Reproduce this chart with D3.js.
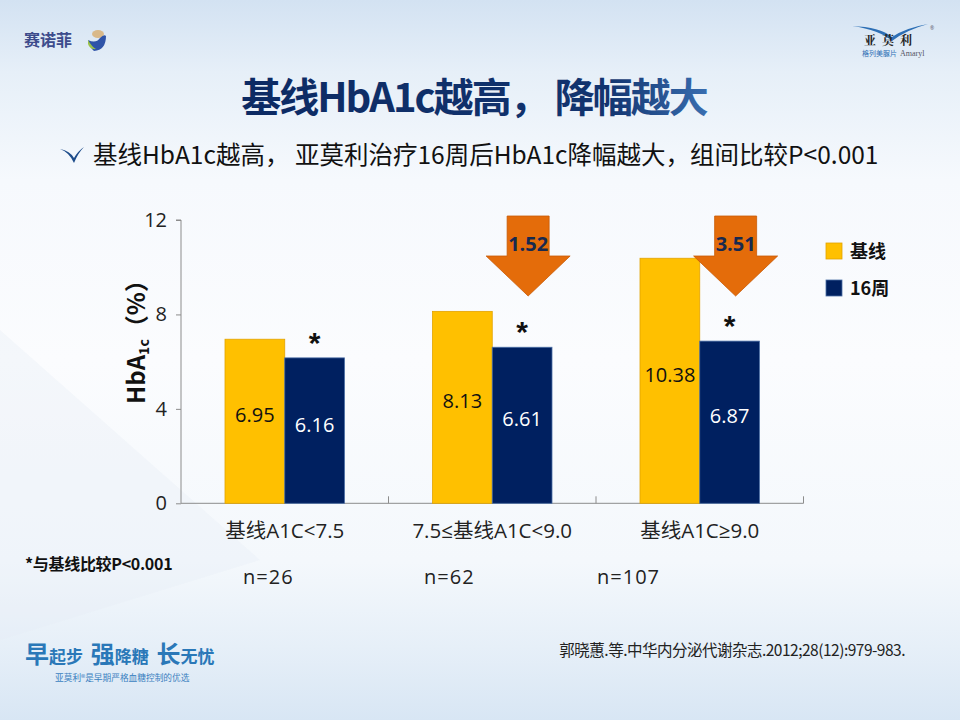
<!DOCTYPE html>
<html><head><meta charset="utf-8">
<script src="https://cdn.jsdelivr.net/npm/d3@7"></script>
<style>body{margin:0;padding:0;overflow:hidden;background:#fff}svg{display:block}</style>
</head><body>
<div id="chart"></div>
<script>
// ---- data ----
const categories = ["基线A1C<7.5", "7.5≤基线A1C<9.0", "基线A1C≥9.0"];
const seriesNames = ["基线", "16周"];
const baselineValues = [6.95, 8.13, 10.38];
const week16Values = [6.16, 6.61, 6.87];
const dropLabels = [null, "1.52", "3.51"];
const sampleSizes = ["n=26", "n=62", "n=107"];
const yTicks = [0, 4, 8, 12];
const seriesColors = ["#FFC000", "#002060"];
const seriesStroke = ["#E2A300", "#4C6FA6"];

const W = 960, H = 720;
const svg = d3.select("#chart").append("svg").attr("width", W).attr("height", H);
const defs = svg.append("defs");

// background
const bg = defs.append("linearGradient").attr("id", "bg").attr("x1", 0).attr("y1", 0).attr("x2", 0).attr("y2", 1);
[["0%", "#d3e2f2"], ["10%", "#e6eff8"], ["25%", "#f6f9fd"], ["50%", "#fbfcfe"], ["78%", "#f4f8fc"], ["90%", "#e6eff8"], ["100%", "#d8e6f4"]]
  .forEach(([o, c]) => bg.append("stop").attr("offset", o).attr("stop-color", c));
svg.append("rect").attr("width", W).attr("height", H).attr("fill", "url(#bg)");
svg.append("path").attr("d", "M0,330 L260,560 L0,640 Z").attr("fill", "#e3ecf6").attr("opacity", 0.3);

// title gradient
const tg = defs.append("linearGradient").attr("id", "tg").attr("gradientUnits", "userSpaceOnUse")
  .attr("x1", 237).attr("y1", 0).attr("x2", 712).attr("y2", 0);
[["0%", "#0c2a63"], ["78%", "#12346f"], ["100%", "#3a70b3"]].forEach(([o, c]) => tg.append("stop").attr("offset", o).attr("stop-color", c));

const CJK = "'Noto Sans CJK SC', 'Noto Sans', sans-serif";
const NUM = "'Open Sans', 'Noto Sans', sans-serif";
const MIX = "'Open Sans', 'Noto Sans CJK SC', sans-serif";

// logos
const lg = svg.append("g");
lg.append("text").attr("x", 24).attr("y", 46).attr("font-family", CJK).attr("font-weight", 700)
  .attr("font-size", 16).attr("fill", "#3d4c8c").text("赛诺菲");
lg.append("ellipse").attr("cx", 98).attr("cy", 34).attr("rx", 6).attr("ry", 4).attr("fill", "#d9b98a");
lg.append("path").attr("d", "M88,40 Q96,44 100,38 Q104,34 106,36 Q106,50 94,51 Q90,48 88,40 Z").attr("fill", "#2f54a8");
lg.append("path").attr("d", "M88,40 Q92,47 96,49 Q90,50 88,44 Z").attr("fill", "#9bc24a");

lg.append("path").attr("d", "M852,26 Q880,27 892,37 Q905,28 928,24 Q906,30 892,41 Q880,30 852,26 Z").attr("fill", "#2d6fb5");
lg.append("text").attr("x", 864).attr("y", 45).attr("font-family", "'Noto Serif CJK SC', 'Noto Sans CJK SC', serif")
  .attr("font-weight", 700).attr("font-size", 12).attr("letter-spacing", 6).attr("fill", "#222").text("亚莫利");
lg.append("text").attr("x", 862).attr("y", 56).attr("font-family", CJK).attr("font-size", 7).attr("fill", "#2d6fb5").text("格列美脲片");
lg.append("text").attr("x", 900).attr("y", 56).attr("font-family", "'Liberation Serif', serif").attr("font-size", 8).attr("fill", "#556").text("Amaryl");
lg.append("text").attr("x", 930).attr("y", 30).attr("font-family", NUM).attr("font-size", 5).attr("fill", "#556").text("®");

// title
svg.append("text").attr("x", 474).attr("y", 112).attr("text-anchor", "middle")
  .attr("font-family", CJK).attr("font-weight", 700).attr("font-size", 40).attr("letter-spacing", -2)
  .attr("fill", "url(#tg)").text("基线HbA1c越高， 降幅越大");

// subtitle bullet + text
svg.append("path").attr("d", "M60,149 Q70,151 74,158 Q78,151 84,147 Q78,153 74,163 Q69,152 60,149 Z").attr("fill", "#1d4c8a");
svg.append("text").attr("x", 93).attr("y", 164).attr("font-family", CJK).attr("font-size", 24.5).attr("fill", "#111")
  .text("基线HbA1c越高， 亚莫利治疗16周后HbA1c降幅越大，组间比较P<0.001");

// scales
const x0 = d3.scaleBand().domain(categories).range([181, 803.5]).padding(0);
const x1 = d3.scaleBand().domain(seriesNames).range([44, 163.5]).padding(0);
const y = d3.scaleLinear().domain([0, 12]).range([503.3, 220]);

// y axis
const yAxis = svg.append("g").attr("transform", "translate(181,0)")
  .call(d3.axisLeft(y).tickValues(yTicks).tickSize(5).tickPadding(9).tickFormat(d3.format("d")));
yAxis.selectAll("path,line").attr("stroke", "#8c8c8c");
yAxis.select(".domain").attr("d", `M-5,${y(12)}H0V${y(0)}`);
yAxis.selectAll("text").attr("font-family", NUM).attr("font-size", 20).attr("fill", "#222");

// x axis
const xg = svg.append("g");
xg.append("line").attr("x1", x0.range()[0]).attr("x2", x0.range()[1]).attr("y1", y(0)).attr("y2", y(0)).attr("stroke", "#8c8c8c");
xg.selectAll("line.tk").data(categories).join("line").attr("class", "tk")
  .attr("x1", d => x0(d) + x0.bandwidth()).attr("x2", d => x0(d) + x0.bandwidth())
  .attr("y1", y(0)).attr("y2", y(0) - 7).attr("stroke", "#8c8c8c");
xg.selectAll("text.cat").data(categories).join("text").attr("class", "cat")
  .attr("x", d => x0(d) + x0.bandwidth() / 2).attr("y", 538).attr("text-anchor", "middle")
  .attr("font-family", MIX).attr("font-size", 20.5).attr("fill", "#222").text(d => d);

// bars
const rows = categories.map((c, i) => ({ cat: c, vals: [baselineValues[i], week16Values[i]], drop: dropLabels[i] }));
const groups = svg.selectAll("g.grp").data(rows).join("g").attr("class", "grp")
  .attr("transform", d => `translate(${x0(d.cat)},0)`);
groups.selectAll("rect").data(d => d.vals.map((v, j) => ({ s: seriesNames[j], v, j }))).join("rect")
  .attr("x", d => x1(d.s)).attr("width", x1.bandwidth())
  .attr("y", d => y(d.v)).attr("height", d => y(0) - y(d.v))
  .attr("fill", d => seriesColors[d.j]).attr("stroke", d => seriesStroke[d.j]).attr("stroke-width", 0.8);
groups.selectAll("text.val").data(d => d.vals.map((v, j) => ({ s: seriesNames[j], v, j }))).join("text").attr("class", "val")
  .attr("x", d => x1(d.s) + x1.bandwidth() / 2).attr("y", d => (y(d.v) + y(0)) / 2 + 1)
  .attr("text-anchor", "middle").attr("font-family", NUM).attr("font-size", 20)
  .attr("fill", d => d.j === 0 ? "#111" : "#fff").text(d => d.v.toFixed(2));
// asterisks
groups.append("text").attr("x", d => x1(seriesNames[1]) + x1.bandwidth() / 2)
  .attr("y", d => y(d.vals[1]) - 5).attr("text-anchor", "middle")
  .attr("font-family", "'Liberation Sans', Arial, sans-serif").attr("font-weight", 700).attr("font-size", 30)
  .attr("fill", "#111").text("*");

// drop arrows
const arrowTop = 216, headY = 256, tipY = 296, shaftHW = 21, headHW = 42;
const arr = groups.filter(d => d.drop).append("g")
  .attr("transform", d => `translate(${x1(seriesNames[1]) + x1.bandwidth() / 2 + 6},0)`);
arr.append("path")
  .attr("d", `M${-shaftHW},${arrowTop}H${shaftHW}V${headY}H${headHW}L0,${tipY}L${-headHW},${headY}H${-shaftHW}Z`)
  .attr("fill", "#E46C0A").attr("stroke", "#c85a06").attr("stroke-width", 0.8);
arr.append("text").attr("x", 0).attr("y", 251).attr("text-anchor", "middle")
  .attr("font-family", NUM).attr("font-weight", 700).attr("font-size", 20).attr("fill", "#17294f").text(d => d.drop);

// legend
const leg = svg.append("g").attr("transform", "translate(826,243)");
seriesNames.forEach((s, i) => {
  leg.append("rect").attr("x", 0).attr("y", i * 37).attr("width", 16).attr("height", 16)
    .attr("fill", seriesColors[i]).attr("stroke", seriesStroke[i]).attr("stroke-width", 0.8);
  leg.append("text").attr("x", 24).attr("y", i * 37 + 15).attr("font-family", CJK).attr("font-weight", 700)
    .attr("font-size", 18).attr("fill", "#111").text(s);
});

// y-axis title
const yt = svg.append("text").attr("transform", "translate(145,336) rotate(-90)").attr("text-anchor", "middle")
  .attr("font-family", CJK).attr("font-weight", 700).attr("font-size", 24).attr("fill", "#111");
yt.append("tspan").text("HbA");
yt.append("tspan").attr("font-size", 14).attr("dy", 4).text("1c");
yt.append("tspan").attr("dy", -4).text("（%）");

// footnote + n
svg.append("text").attr("x", 25).attr("y", 570).attr("font-family", CJK).attr("font-weight", 700)
  .attr("font-size", 16).attr("letter-spacing", -0.3).attr("fill", "#111").text("*与基线比较P<0.001");
const nX = [243, 424, 597];
svg.selectAll("text.n").data(sampleSizes).join("text").attr("class", "n")
  .attr("x", (d, i) => nX[i]).attr("y", 584).attr("font-family", NUM).attr("font-size", 20).attr("letter-spacing", 1)
  .attr("fill", "#222").text(d => d);

// citation
svg.append("text").attr("x", 905).attr("y", 656).attr("text-anchor", "end").attr("font-family", CJK)
  .attr("font-size", 15.5).attr("letter-spacing", -0.5).attr("fill", "#222").text("郭晓蕙.等.中华内分泌代谢杂志.2012;28(12):979-983.");

// bottom-left slogan
const sl = svg.append("text").attr("x", 25).attr("y", 663).attr("font-family", CJK).attr("font-weight", 700).attr("fill", "#2a78b8")
  .attr("xml:space", "preserve").style("white-space", "pre");
[["早", 24], ["起步  ", 17], ["强", 24], ["降糖  ", 17], ["长", 24], ["无忧", 17]].forEach(([t, s]) =>
  sl.append("tspan").attr("font-size", s).text(t));
svg.append("text").attr("x", 55).attr("y", 681).attr("font-family", CJK).attr("font-size", 8.7).attr("fill", "#3a7fc0")
  .text("亚莫利®是早期严格血糖控制的优选");
</script>
</body></html>
